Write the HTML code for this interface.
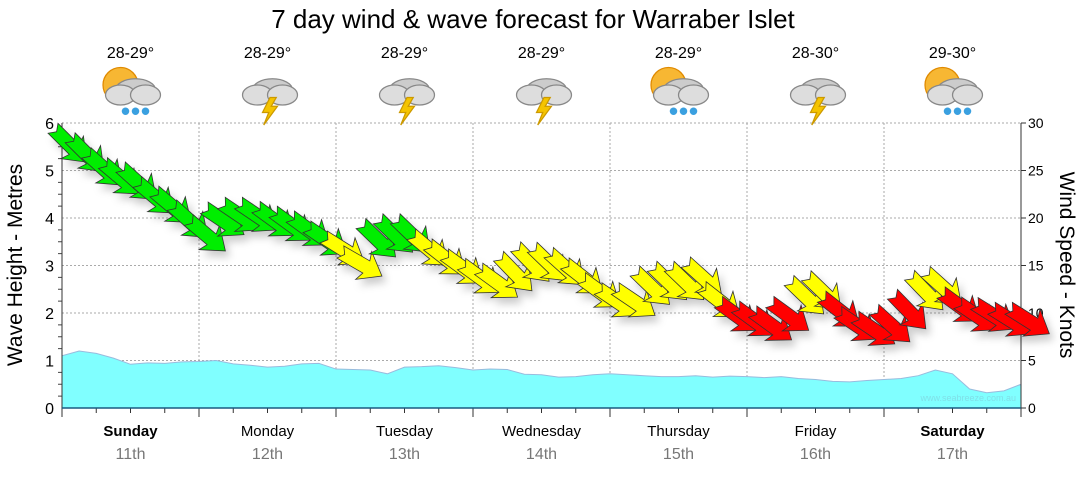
<!DOCTYPE html>
<html><head><meta charset="utf-8"><style>
body{margin:0;background:#fff;width:1080px;height:475px;overflow:hidden;font-family:"Liberation Sans",sans-serif}
svg text{font-family:"Liberation Sans",sans-serif}
</style></head><body>
<svg id="c" width="1080" height="475">
<defs>
<filter id="sh" x="-30%" y="-30%" width="160%" height="160%"><feDropShadow dx="4" dy="6" stdDeviation="4" flood-color="#000" flood-opacity="0.2"/></filter>
</defs>
<text x="533" y="28" font-size="26" text-anchor="middle">7 day wind &amp; wave forecast for Warraber Islet</text>
<g id="grid"></g><g id="area"></g><g id="axes"></g><g id="arrows" filter="url(#sh)"></g><g id="icons"></g>
<text transform="translate(22,265) rotate(-90)" font-size="21" text-anchor="middle">Wave Height - Metres</text>
<text transform="translate(1060,265) rotate(90)" font-size="21" text-anchor="middle">Wind Speed - Knots</text>
<text x="1016" y="401" font-size="9" fill="#7fe0e8" text-anchor="end">www.seabreeze.com.au</text>
</svg>
<script>
const days=["Sunday","Monday","Tuesday","Wednesday","Thursday","Friday","Saturday"];
const dates=["11th","12th","13th","14th","15th","16th","17th"];
const temps=["28-29°","28-29°","28-29°","28-29°","28-29°","28-30°","29-30°"];
const iconTypes=["sunrain","storm","storm","storm","sunrain","storm","sunrain"];
const waveTicks=[0,1,2,3,4,5,6];
const windTicks=[0,5,10,15,20,25,30];
const wave=[1.1,1.2,1.15,1.05,0.92,0.95,0.94,0.97,0.98,1.0,
0.93,0.9,0.86,0.88,0.93,0.94,0.82,0.81,0.8,0.72,
0.86,0.87,0.89,0.85,0.8,0.82,0.81,0.71,0.7,0.65,
0.66,0.7,0.72,0.7,0.68,0.66,0.66,0.68,0.65,0.67,
0.66,0.64,0.66,0.62,0.6,0.56,0.55,0.58,0.6,0.62,
0.68,0.8,0.72,0.4,0.32,0.36,0.5];
const wind=[28.5,27.5,26,25,24.5,23,22,20.5,19,
20.5,21,21,20.5,20,19.5,18.5,17.5,16,
18.5,19,19,17.5,16.5,15.5,14.5,14,
15,16,16,15.5,14.5,13,12,12,
13.5,14,14,14.5,12,10.5,10,9.5,
10.5,12.5,13,11,9.5,9,9.5,11,
13,13.5,11.5,10.5,10.5,10,10];
const dir=[45,45,42,40,42,40,40,42,40,
34,34,34,36,36,36,34,32,30,
44,44,44,40,38,36,36,36,
46,46,44,42,38,36,34,34,
44,44,44,42,38,36,36,36,
36,44,44,38,34,34,42,46,
46,42,36,34,32,32,32];
const x0=62,dayW=137,yB=408,yT=123;
const X=i=>x0+i*dayW/8;
const YW=v=>yB-(v/6)*(yB-yT);
const YK=v=>yB-(v/30)*(yB-yT);
const NS="http://www.w3.org/2000/svg";
function mk(t,a,p){const e=document.createElementNS(NS,t);for(const k in a)e.setAttribute(k,a[k]);p.appendChild(e);return e;}
const grid=document.getElementById('grid'),axes=document.getElementById('axes');
waveTicks.forEach(v=>{if(v>0){const l=mk('line',{x1:x0,x2:1021,y1:YW(v),y2:YW(v),stroke:'#aaa','stroke-dasharray':'2,2'},grid);

}
const t=mk('text',{x:54,y:YW(v)+6,'font-size':16,'text-anchor':'end'},axes);t.textContent=v;

});
windTicks.forEach(v=>{const t=mk('text',{x:1028,y:YK(v)+5,'font-size':14},axes);t.textContent=v;


mk('line',{x1:1021,x2:1026,y1:YK(v),y2:YK(v),stroke:'#333'},axes);});
for(let d=1;d<7;d++){const l=mk('line',{x1:x0+d*dayW,x2:x0+d*dayW,y1:yT,y2:yB,stroke:'#aaa','stroke-dasharray':'2,2'},grid);

}
for(let m=0;m<=24;m++){const y=YW(m/4);mk('line',{x1:x0-(m%4?4:0),x2:x0+0.5,y1:y,y2:y,stroke:'#444'},axes);}
for(let q=0;q<=28;q++){const x=x0+q*dayW/4;mk('line',{x1:x,x2:x,y1:yB,y2:yB+(q%4?5:9),stroke:'#333'},axes);}
mk('line',{x1:x0,x2:x0,y1:yT,y2:yB,stroke:'#333'},axes);
mk('line',{x1:1021,x2:1021,y1:yT,y2:yB,stroke:'#333'},axes);
mk('line',{x1:x0,x2:1021,y1:yB,y2:yB,stroke:'#1a5a80','stroke-width':1.5},axes);
let d='M'+X(0)+','+yB;wave.forEach((v,i)=>d+=' L'+X(i)+','+YW(v));d+=' L'+X(wave.length-1)+','+yB+'Z';
const ar=mk('path',{d:d,fill:'#80ffff',stroke:'#9bd','stroke-width':1},document.getElementById('area'));


days.forEach((n,i)=>{const cx=x0+i*dayW+dayW/2;
const t=mk('text',{x:cx,y:436,'font-size':15,'text-anchor':'middle','font-weight':(i==0||i==6)?'bold':'normal'},axes);t.textContent=n;


const t2=mk('text',{x:cx,y:459,'font-size':16,'text-anchor':'middle',fill:'#777'},axes);t2.textContent=dates[i];


const t3=mk('text',{x:cx,y:58,'font-size':16,'text-anchor':'middle'},axes);t3.textContent=temps[i];


const g=mk('g',{transform:'translate('+cx+',90) scale(1.25)'},document.getElementById('icons'));


if(iconTypes[i]=='sunrain'){mk('circle',{cx:-8,cy:-4,r:14,fill:'#f7b733',stroke:'#e08a00'},g);}
mk('ellipse',{cx:4,cy:0,rx:16,ry:9,fill:'#ccc',stroke:'#888'},g);
mk('ellipse',{cx:-8,cy:4,rx:12,ry:8,fill:'#ddd',stroke:'#888'},g);
mk('ellipse',{cx:12,cy:4,rx:12,ry:8,fill:'#ddd',stroke:'#888'},g);
if(iconTypes[i]=='storm'){mk('polygon',{points:'2,6 -4,18 1,18 -3,28 8,13 3,13 7,6',fill:'#f5c400',stroke:'#c90'},g);}
else{[-4,4,12].forEach(dx=>mk('circle',{cx:dx,cy:17,r:3,fill:'#3aa0e0'},g));}
});
const arr=document.getElementById('arrows');
wind.forEach((k,i)=>{const col=k>=18?'#00ee00':(k>=12?'#ffff00':'#ff0000');
const p=mk('polygon',{points:'-24,-7 6,-7 3,-16 24,0 3,16 6,7 -24,7 -19,0',fill:col,stroke:'#333','stroke-width':0.8,transform:'translate('+(X(i)+8)+','+(YK(k)+8)+') rotate('+dir[i]+')'},arr);

});
</script>
</body></html>
